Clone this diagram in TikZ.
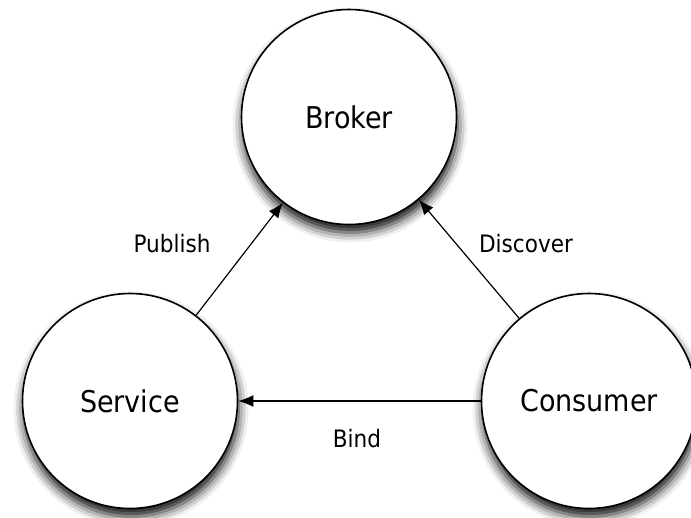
\documentclass[tikz,border=0pt]{standalone}
\usepackage{fontspec}
\setmainfont{DejaVu Sans Condensed}
\usetikzlibrary{arrows.meta,shadows.blur}
\begin{document}
\begin{tikzpicture}[x=1pt,y=-1pt,
  entity/.style={circle,draw=black,line width=1.6pt,fill=white,minimum size=215pt,inner sep=0pt,
    font=\fontsize{30}{36}\selectfont,
    blur shadow={shadow xshift=1pt,shadow yshift=-8pt,shadow blur radius=10pt,shadow opacity=95}},
  link/.style={line width=1.2pt,-{Latex[length=15pt,width=12pt]}},
  lbl/.style={font=\fontsize{24}{28}\selectfont,anchor=base}]
\useasboundingbox (0,0) rectangle (691,517);
\node[entity] (broker) at (349,117) {Broker};
\node[entity] (service) at (130,401) {Service};
\node[entity] (consumer) at (589,401) {Consumer};
\draw[link] (service) -- (broker);
\draw[link] (consumer) -- (broker);
\draw[link] (consumer) -- (service);
\node[lbl] (publish) at (172,252) {Publish};
\node[lbl] (discover) at (526,252) {Discover};
\node[lbl] (bind) at (357,447) {Bind};
\end{tikzpicture}
\end{document}
